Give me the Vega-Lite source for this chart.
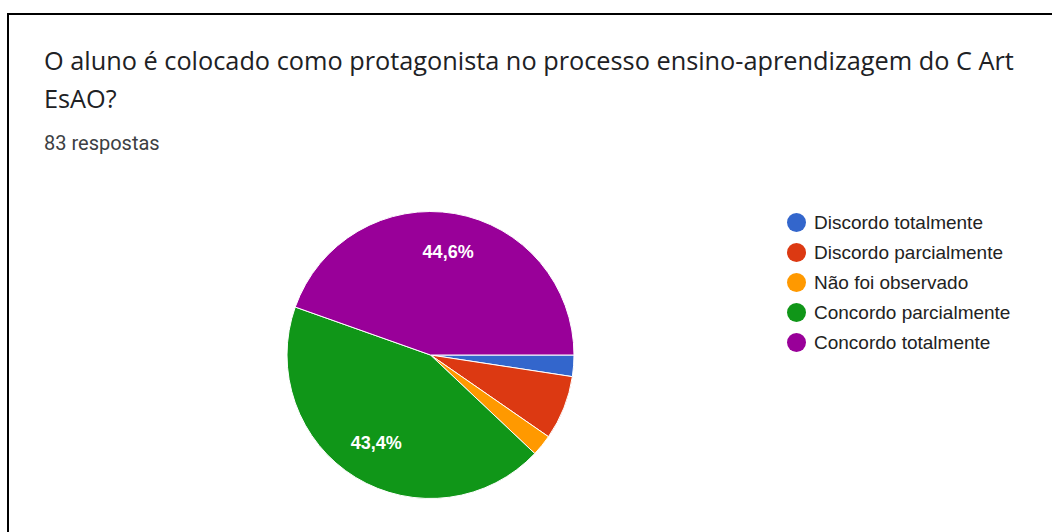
{
  "$schema": "https://vega.github.io/schema/vega-lite/v6.json",
  "autosize": {"type": "none"},
  "padding": {"left": 8, "top": 14, "right": 0, "bottom": 0},
  "width": 1044,
  "height": 518,
  "background": "white",
  "view": {"stroke": "black", "strokeWidth": 2, "strokeDash": [1044, 1562, 520, 0], "fill": null},
  "title": {
    "text": ["O aluno é colocado como protagonista no processo ensino-aprendizagem do C Art", "EsAO?"],
    "subtitle": "83 respostas",
    "anchor": "start",
    "frame": "group",
    "orient": "top",
    "offset": -140,
    "dx": 36,
    "font": "Open Sans",
    "fontSize": 25.3,
    "fontWeight": "normal",
    "color": "#202124",
    "lineHeight": 38,
    "subtitleFont": "Roboto",
    "subtitleFontSize": 20,
    "subtitleColor": "#3c4043",
    "subtitlePadding": 21
  },
  "data": {
    "values": [
      {"resposta": "Discordo totalmente", "n": 2, "pct": 0.024, "ord": 1},
      {"resposta": "Discordo parcialmente", "n": 6, "pct": 0.072, "ord": 2},
      {"resposta": "Não foi observado", "n": 2, "pct": 0.024, "ord": 3},
      {"resposta": "Concordo parcialmente", "n": 36, "pct": 0.434, "ord": 4},
      {"resposta": "Concordo totalmente", "n": 37, "pct": 0.446, "ord": 5}
    ]
  },
  "layer": [
    {
      "mark": {"type": "arc", "outerRadius": 143.5, "stroke": "white", "strokeWidth": 1, "xOffset": -99.5, "yOffset": 82},
      "encoding": {
        "theta": {"field": "n", "type": "quantitative", "stack": true, "scale": {"range": [1.5707963, 7.8539816]}},
        "order": {"field": "ord", "type": "quantitative"},
        "color": {
          "field": "resposta",
          "type": "nominal",
          "sort": ["Discordo totalmente", "Discordo parcialmente", "Não foi observado", "Concordo parcialmente", "Concordo totalmente"],
          "scale": {
            "domain": ["Discordo totalmente", "Discordo parcialmente", "Não foi observado", "Concordo parcialmente", "Concordo totalmente"],
            "range": ["#3366cc", "#dc3912", "#ff9900", "#109618", "#990099"]
          },
          "legend": {
            "title": null,
            "orient": "none",
            "legendX": 779,
            "legendY": 199,
            "symbolType": "circle",
            "symbolSize": 361,
            "symbolStrokeWidth": 0,
            "symbolOpacity": 1,
            "labelFont": "Liberation Sans",
            "labelFontSize": 19,
            "labelColor": "#222222",
            "labelOffset": 8,
            "labelLimit": 400,
            "rowPadding": 10,
            "padding": 0
          }
        }
      }
    },
    {
      "mark": {"type": "text", "radius": 104, "xOffset": -99.5, "yOffset": 82, "font": "Liberation Sans", "fontSize": 18, "fontWeight": "bold", "fill": "white", "baseline": "middle", "align": "center"},
      "encoding": {
        "theta": {"field": "n", "type": "quantitative", "stack": true},
        "order": {"field": "ord", "type": "quantitative"},
        "text": {"field": "pct", "type": "quantitative", "format": ".1%"},
        "opacity": {"condition": {"test": "datum.n < 10", "value": 0}, "value": 1}
      }
    }
  ],
  "config": {
    "locale": {"number": {"decimal": ",", "thousands": ".", "grouping": [3], "currency": ["R$", ""]}}
  }
}
